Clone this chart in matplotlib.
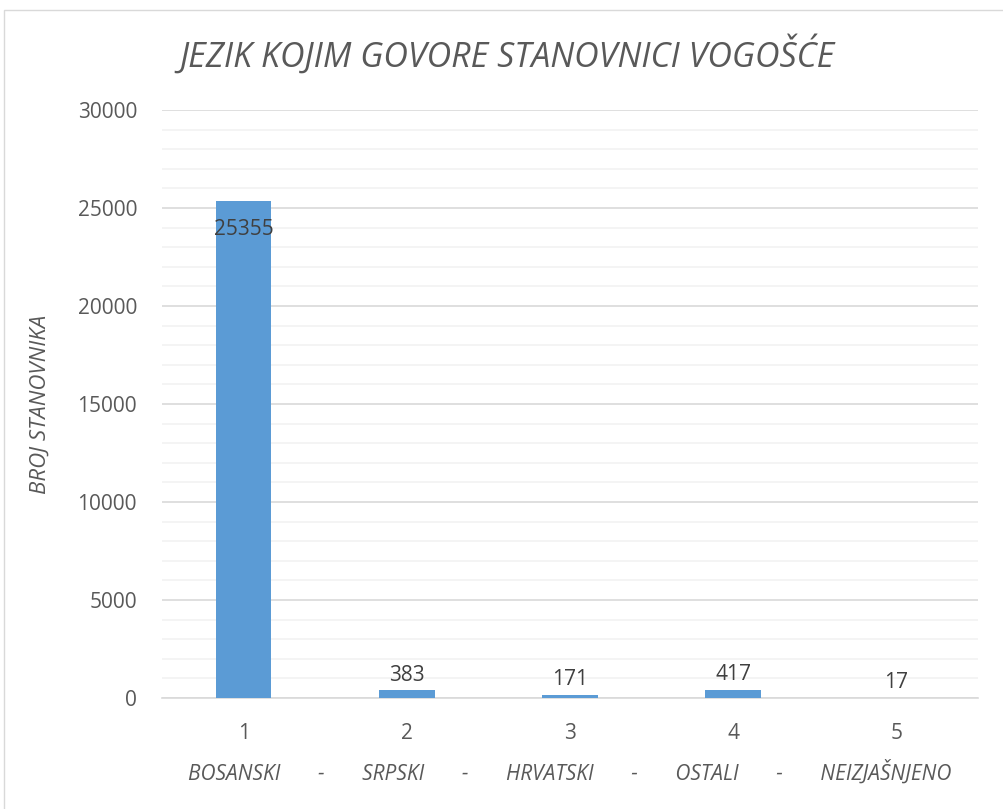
import matplotlib.pyplot as plt
from matplotlib.patches import Rectangle
from matplotlib.ticker import MultipleLocator

categories = ['1', '2', '3', '4', '5']
values = [25355, 383, 171, 417, 17]
languages = ['BOSANSKI', 'SRPSKI', 'HRVATSKI', 'OSTALI', 'NEIZJAŠNJENO']

plt.rcParams['font.family'] = ['Open Sans', 'DejaVu Sans']

text_col = '#595959'
bar_col = '#5B9BD5'

fig = plt.figure(figsize=(10.04, 8.09), dpi=100)
ax = fig.add_axes([0.1614, 0.1372, 0.8126, 0.7268])

x = list(range(len(categories)))
ax.bar(x, values, width=0.34, color=bar_col, zorder=3)

for i, v in enumerate(values):
    if v > 20000:
        ax.text(i, v - 900, str(v), ha='center', va='top', fontsize=15, color='#404040', zorder=4)
    else:
        ax.text(i, v + 250, str(v), ha='center', va='bottom', fontsize=15, color='#404040', zorder=4)

ax.set_xlim(-0.5, 4.5)
ax.set_ylim(0, 30000)
ax.yaxis.set_major_locator(MultipleLocator(5000))
ax.yaxis.set_minor_locator(MultipleLocator(1000))
ax.grid(axis='y', which='major', color='#D9D9D9', linewidth=1.2, zorder=0)
ax.grid(axis='y', which='minor', color='#F2F2F2', linewidth=1.2, zorder=0)
ax.set_xticks(x)
ax.set_xticklabels(categories)
ax.tick_params(axis='both', which='both', length=0, labelsize=15, labelcolor=text_col)
ax.tick_params(axis='x', pad=18)
ax.tick_params(axis='y', pad=18)
for s in ['top', 'right', 'left']:
    ax.spines[s].set_visible(False)
ax.spines['bottom'].set_color('#D9D9D9')
ax.spines['bottom'].set_linewidth(1.2)

ax.set_xlabel('       -       '.join(languages), fontsize=15, style='italic',
              color=text_col, labelpad=12)
ax.set_ylabel('BROJ STANOVNIKA', fontsize=16, style='italic', color=text_col, labelpad=19)
fig.text(0.505, 0.932, 'JEZIK KOJIM GOVORE STANOVNICI VOGOŠĆE', ha='center', va='center',
         fontsize=24.5, style='italic', color=text_col)

fig.patches.append(Rectangle((0.004, -0.01), 1.0, 0.998, transform=fig.transFigure,
                             fill=False, edgecolor='#D9D9D9', linewidth=1))

fig.savefig('out.png', dpi=100)
